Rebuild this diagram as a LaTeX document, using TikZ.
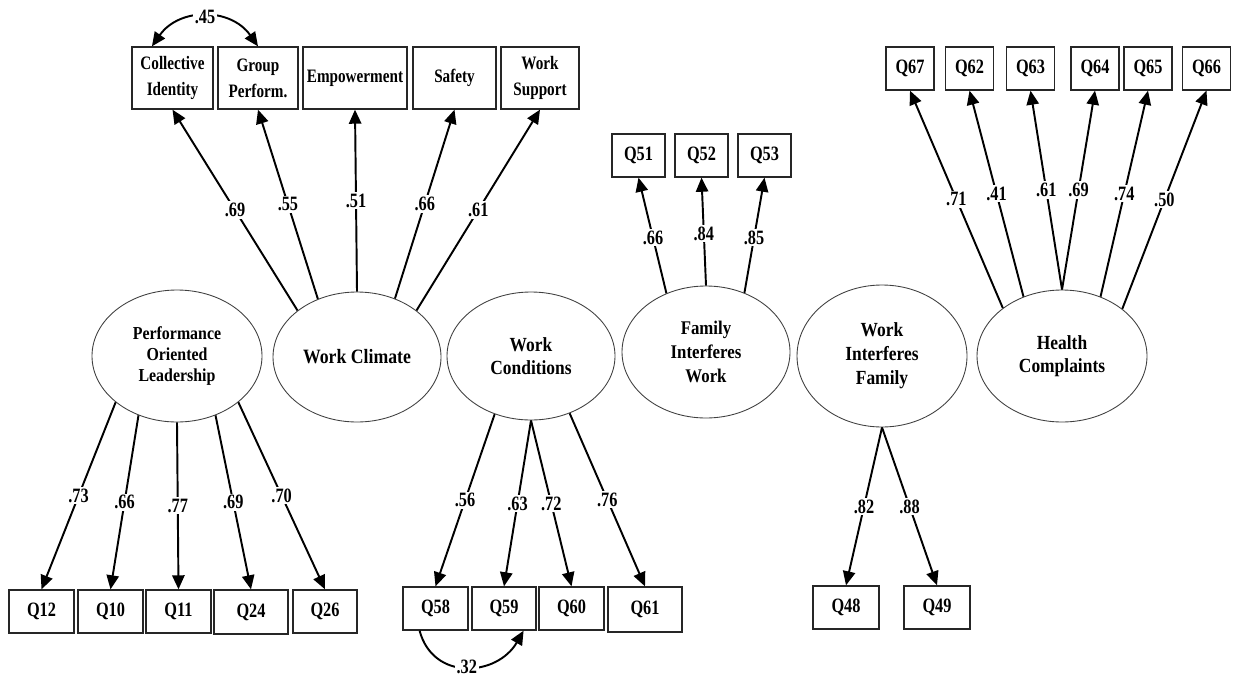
\documentclass[tikz,border=0pt]{standalone}
\usepackage{fontspec}
\usetikzlibrary{arrows.meta,shapes.geometric,calc}
% condensed Times-like faces used throughout the path diagram
\newfontfamily\narrowserif{Liberation Serif}[FakeStretch=0.8]
\newfontfamily\ovalserif{Liberation Serif}[FakeStretch=0.87]
\newcommand\unitpx{0.02cm}
\tikzset{
  obs/.style 2 args={draw=black!85, line width=0.75pt, rectangle, inner sep=0pt,
    minimum width=#1*\unitpx, minimum height=#2*\unitpx, align=center,
    font=\narrowserif\bfseries\fontsize{11.6}{13}\selectfont},
  facet/.style={font=\narrowserif\bfseries\fontsize{10.8}{14.7}\selectfont},
  latent/.style 2 args={draw=black!75, line width=0.5pt, ellipse, inner sep=0pt,
    minimum width=#1*\unitpx, minimum height=#2*\unitpx, align=center,
    font=\ovalserif\bfseries\fontsize{11.4}{13.4}\selectfont},
  tip/.tip={Triangle[length=8pt,width=7pt]},
  load/.style={draw=black, line width=1.1pt, -tip},
  covar/.style={draw=black, line width=1.1pt},
  coef/.style={fill=white, inner sep=1pt,
    font=\narrowserif\bfseries\fontsize{11.6}{12}\selectfont}
}
\begin{document}
\begin{tikzpicture}[x=0.02cm, y=-0.02cm]
\useasboundingbox (0,0) rectangle (1236,679);

% latent constructs
\node[latent={170}{132}, font=\ovalserif\bfseries\fontsize{10.4}{11.9}\selectfont] (pl) at (177,356) {Performance\\Oriented\\Leadership};
\node[latent={168}{130}, font=\ovalserif\bfseries\fontsize{11.6}{14}\selectfont] (wc) at (357,357) {Work Climate};
\node[latent={168}{128}] (wk) at (531,356) {Work\\Conditions};
\node[latent={168}{132}, font=\ovalserif\bfseries\fontsize{11}{13.6}\selectfont] (fiw) at (706,352) {Family\\Interferes\\Work};
\node[latent={170}{142}, font=\ovalserif\bfseries\fontsize{11.4}{13.6}\selectfont] (wif) at (882,356) {Work\\Interferes\\Family};
\node[latent={170}{132}] (hc) at (1062,356) {Health\\Complaints};

% work climate facets
\node[obs={81}{62}, facet] (ci)  at (172.5,78) {Collective\\Identity};
\node[obs={80}{62}, facet] (gp)  at (258,78)   {Group\\Perform.};
\node[obs={104}{62}, facet] (emp) at (355,78)  {Empowerment};
\node[obs={83}{62}, facet] (saf) at (454.5,78) {Safety};
\node[obs={78}{62}, facet] (ws)  at (540,78)   {Work\\Support};

% leadership items
\node[obs={65}{43}] (q12) at (41.5,611.5) {Q12};
\node[obs={65}{43}] (q10) at (110.5,611.5) {Q10};
\node[obs={65}{43}] (q11) at (178.5,611.5) {Q11};
\node[obs={74}{44}] (q24) at (251,612) {Q24};
\node[obs={64}{43}] (q26) at (325,611.5) {Q26};

% work condition items
\node[obs={65}{43}] (q58) at (435.5,608.5) {Q58};
\node[obs={64}{43}] (q59) at (504,608.5) {Q59};
\node[obs={65}{43}] (q60) at (571.5,608.5) {Q60};
\node[obs={74}{45}] (q61) at (645,609.5) {Q61};

% family-to-work items
\node[obs={53}{43}] (q51) at (638.5,155.5) {Q51};
\node[obs={53}{43}] (q52) at (701.5,155.5) {Q52};
\node[obs={53}{43}] (q53) at (764.5,155.5) {Q53};

% work-to-family items
\node[obs={66}{43}] (q48) at (846,607.5) {Q48};
\node[obs={66}{43}] (q49) at (937,607.5) {Q49};

% health items
\node[obs={48}{43}] (q67) at (910,68.5) {Q67};
\node[obs={48}{43}] (q62) at (969.5,68.5) {Q62};
\node[obs={48}{43}] (q63) at (1030.5,68.5) {Q63};
\node[obs={48}{43}] (q64) at (1095,68.5) {Q64};
\node[obs={48}{43}] (q65) at (1148,68.5) {Q65};
\node[obs={48}{43}] (q66) at (1206.5,68.5) {Q66};

% loadings: leadership
\draw[load] (pl.217) -- node[coef]{.73} (q12.north);
\draw[load] (pl.237) -- node[coef]{.66} (q10.north);
\draw[load] (pl.270) -- node[coef]{.77} (q11.north);
\draw[load] (pl.303) -- node[coef]{.69} (q24.north);
\draw[load] (pl.323) -- node[coef]{.70} (q26.north);

% loadings: work climate
\draw[load] (wc.142) -- node[coef]{.69} (ci.south);
\draw[load] (wc.124) -- node[coef]{.55} (gp.south);
\draw[load] (wc.90)  -- node[coef]{.51} (emp.south);
\draw[load] (wc.57)  -- node[coef]{.66} (saf.south);
\draw[load] (wc.38)  -- node[coef]{.61} (ws.south);

% loadings: work conditions
\draw[load] (wk.238) -- node[coef]{.56} (q58.north);
\draw[load] (wk.270) -- node[coef]{.63} (q59.north);
\draw[load] (wk.270) -- node[coef]{.72} (q60.north);
\draw[load] (wk.304) -- node[coef]{.76} (q61.north);

% loadings: family interferes work
\draw[load] (fiw.124) -- node[coef, pos=0.48]{.66} (q51.south);
\draw[load] (fiw.90)  -- node[coef, pos=0.48]{.84} (q52.south);
\draw[load] (fiw.57)  -- node[coef, pos=0.48]{.85} (q53.south);

% loadings: work interferes family
\draw[load] (wif.270) -- node[coef]{.82} (q48.north);
\draw[load] (wif.270) -- node[coef]{.88} (q49.north);

% loadings: health complaints
\draw[load] (hc.141) -- node[coef]{.71} (q67.south);
\draw[load] (hc.123) -- node[coef]{.41} (q62.south);
\draw[load] (hc.90)  -- node[coef]{.61} (q63.south);
\draw[load] (hc.90)  -- node[coef]{.69} (q64.south);
\draw[load] (hc.57)  -- node[coef]{.74} (q65.south);
\draw[load] (hc.38)  -- node[coef]{.50} (q66.south);

% correlated residuals
\coordinate (ciTop) at ($(ci.north west)!0.25!(ci.north east)$);
\draw[covar, tip-tip]
  (ciTop) to[out=55, in=125, looseness=1.15] node[coef]{.45} (gp.north);
\coordinate (q58Bot) at ($(q58.south west)!0.26!(q58.south east)$);
\coordinate (q59Bot) at ($(q59.south west)!0.8!(q59.south east)$);
\draw[covar, -tip]
  (q58Bot) to[out=-75, in=-120, looseness=1.3] node[coef]{.32} (q59Bot);
\end{tikzpicture}
\end{document}
